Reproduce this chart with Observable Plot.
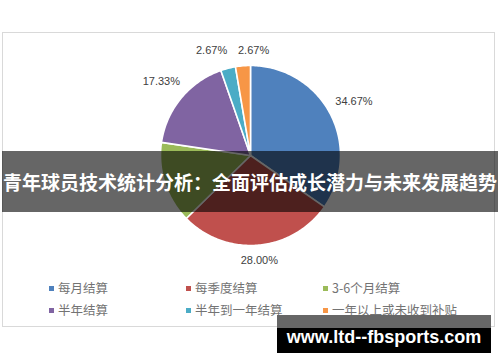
<!DOCTYPE html>
<html>
<head>
<meta charset="utf-8">
<script src="https://cdn.jsdelivr.net/npm/d3@7"></script>
<script src="https://cdn.jsdelivr.net/npm/@observablehq/plot@0.6"></script>
<style>
  html, body { margin: 0; padding: 0; background: #fff; }
  #wrap { position: relative; width: 500px; height: 362px; overflow: hidden; font-family: "Noto Sans CJK SC", "Liberation Sans", sans-serif; }
  #box { position: absolute; left: 2px; top: 32px; width: 493px; height: 295px; border: 1px solid #d9d9d9; box-sizing: border-box; }
  #chart { position: absolute; left: 0; top: 0; }
  #legend { position: absolute; left: 0; top: 0; width: 500px; height: 362px; }
  .li { position: absolute; font-size: 12.5px; color: #737373; white-space: nowrap; line-height: 14px; }
  .li i { display: inline-block; width: 5px; height: 5px; margin-right: 4px; vertical-align: middle; position: relative; top: -1px; }
  #banner { position: absolute; left: 2px; top: 151px; width: 496px; height: 61px; background: rgba(0,0,0,0.6); color: #fff; font-weight: bold; font-size: 19px; line-height: 61px; text-align: center; white-space: nowrap; letter-spacing: 0px; }
  #wm { position: absolute; left: 277px; top: 315px; width: 214px; height: 38px; background: linear-gradient(#666 0, #666 13px, #000 13px); color: #fff; font-family: "Liberation Sans", Arial, sans-serif; font-weight: bold; font-size: 18px; text-align: center; line-height: 44px; white-space: nowrap; }
</style>
</head>
<body>
<div id="wrap">
  <div id="box"></div>
  <div id="chart"></div>
  <div id="legend"></div>
  <div id="banner"></div>
  <div id="wm"></div>
</div>
<script>
const categories = ["每月结算", "每季度结算", "3-6个月结算", "半年结算", "半年到一年结算", "一年以上或未收到补贴"];
const values = [34.67, 28.00, 14.67, 17.33, 2.67, 2.67];
const labels = ["34.67%", "28.00%", "14.67%", "17.33%", "2.67%", "2.67%"];
const showLabel = [true, true, false, true, true, true];
const colors = ["#4F81BD", "#C0504D", "#9BBB59", "#8064A2", "#4BACC6", "#F79646"];
const bannerText = "青年球员技术统计分析：全面评估成长潜力与未来发展趋势";
const watermark = "www.ltd--fbsports.com";

// layout
const cx = 250, cy = 155, R = 90;

const pie = d3.pie().sort(null).value(d => d.value)(categories.map((c, i) => ({cat: c, value: values[i], i})));

// slice outlines (unit circle coords, angle clockwise from 12 o'clock)
const slicePts = [];
for (const s of pie) {
  slicePts.push({cat: s.data.cat, x: 0, y: 0});
  const n = Math.max(2, Math.ceil((s.endAngle - s.startAngle) / (Math.PI / 180)));
  for (let k = 0; k <= n; k++) {
    const a = s.startAngle + (s.endAngle - s.startAngle) * k / n;
    slicePts.push({cat: s.data.cat, x: Math.sin(a), y: Math.cos(a)});
  }
}

// labels: outside end
const lab = [];
for (const s of pie) {
  if (!showLabel[s.data.i]) continue;
  const a = (s.startAngle + s.endAngle) / 2;
  const ux = Math.sin(a), uy = Math.cos(a);
  const half = Math.abs(ux) * 18 + Math.abs(uy) * 6;
  const d = R + 8 + half;
  lab.push({text: labels[s.data.i], px: ux * d, py: uy * d});
}
// resolve horizontal overlaps of neighbouring labels
for (let it = 0; it < 5; it++) {
  for (let i = 0; i < lab.length; i++) for (let j = i + 1; j < lab.length; j++) {
    const A = lab[i], B = lab[j];
    if (Math.abs(A.py - B.py) < 13) {
      const ov = 42 - Math.abs(A.px - B.px);
      if (ov > 0) {
        const sgn = A.px < B.px ? -1 : 1;
        A.px += sgn * ov / 2; B.px -= sgn * ov / 2;
      }
    }
  }
}
lab.forEach(l => { l.x = l.px / R; l.y = l.py / R; });

const plot = Plot.plot({
  width: 500,
  height: 362,
  margin: 0,
  x: {domain: [-1, 1], range: [cx - R, cx + R], axis: null},
  y: {domain: [-1, 1], range: [cy + R, cy - R], axis: null},
  color: {domain: categories, range: colors},
  style: {background: "transparent", overflow: "visible"},
  marks: [
    Plot.line(slicePts, {x: "x", y: "y", z: "cat", fill: "cat", stroke: "white", strokeWidth: 1.6, curve: "linear-closed", strokeLinejoin: "round"}),
    Plot.text(lab, {x: "x", y: "y", text: "text", fill: "#404040", fontSize: 11, fontFamily: "Liberation Sans, Arial, sans-serif"})
  ]
});
document.getElementById("chart").appendChild(plot);

// legend
const legX = [50, 187, 324];
const legY = [288, 310];
const leg = document.getElementById("legend");
categories.forEach((c, i) => {
  const el = document.createElement("div");
  el.className = "li";
  el.style.left = (legX[i % 3] - 1) + "px";
  el.style.top = (legY[Math.floor(i / 3)] - 7) + "px";
  el.innerHTML = `<i style="background:${colors[i]}"></i>${c}`;
  leg.appendChild(el);
});

document.getElementById("banner").textContent = bannerText;
document.getElementById("wm").textContent = watermark;
</script>
</body>
</html>
